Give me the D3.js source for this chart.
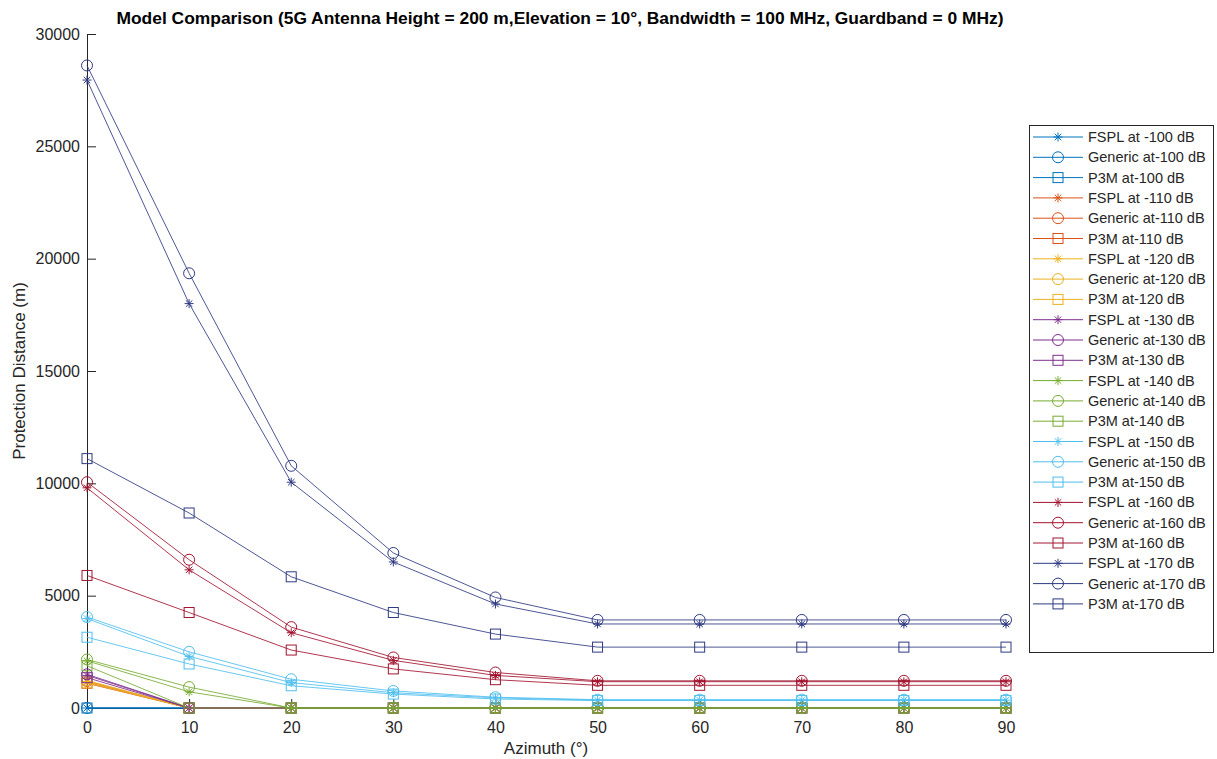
<!DOCTYPE html>
<html>
<head>
<meta charset="utf-8">
<script src="https://cdn.jsdelivr.net/npm/d3@7"></script>
<style>
  html, body { margin: 0; padding: 0; background: #ffffff; }
  svg { display: block; font-family: "Liberation Sans", Arial, Helvetica, sans-serif; }
</style>
</head>
<body>
<svg id="chart" width="1217" height="759"></svg>
<script>
// ---------- data ----------
const azimuths = [0, 10, 20, 30, 40, 50, 60, 70, 80, 90];
const levels = [-100, -110, -120, -130, -140, -150, -160, -170];
const levelColors = ["#0072BD", "#D95319", "#EDB120", "#7E2F8E", "#77AC30", "#4DBEEE", "#A2142F", "#2E3A82"];
const models = ["FSPL", "Generic", "P3M"];
const xTicks = [0, 10, 20, 30, 40, 50, 60, 70, 80, 90];
const yTicks = [0, 5000, 10000, 15000, 20000, 25000, 30000];

const fspl100 = [0, 0, 0, 0, 0, 0, 0, 0, 0, 0];
const generic100 = [0, 0, 0, 0, 0, 0, 0, 0, 0, 0];
const p3m100 = [0, 0, 0, 0, 0, 0, 0, 0, 0, 0];

const fspl110 = [1150, 0, 0, 0, 0, 0, 0, 0, 0, 0];
const generic110 = [1200, 0, 0, 0, 0, 0, 0, 0, 0, 0];
const p3m110 = [1100, 0, 0, 0, 0, 0, 0, 0, 0, 0];

const fspl120 = [1180, 0, 0, 0, 0, 0, 0, 0, 0, 0];
const generic120 = [1230, 0, 0, 0, 0, 0, 0, 0, 0, 0];
const p3m120 = [1120, 0, 0, 0, 0, 0, 0, 0, 0, 0];

const fspl130 = [1450, 0, 0, 0, 0, 0, 0, 0, 0, 0];
const generic130 = [1500, 0, 0, 0, 0, 0, 0, 0, 0, 0];
const p3m130 = [1350, 0, 0, 0, 0, 0, 0, 0, 0, 0];

const fspl140 = [2100, 720, 0, 0, 0, 0, 0, 0, 0, 0];
const generic140 = [2160, 930, 0, 0, 0, 0, 0, 0, 0, 0];
const p3m140 = [1880, 0, 0, 0, 0, 0, 0, 0, 0, 0];

const fspl150 = [3980, 2300, 1130, 680, 450, 350, 350, 350, 350, 350];
const generic150 = [4050, 2500, 1280, 760, 480, 370, 370, 370, 370, 370];
const p3m150 = [3150, 1960, 990, 620, 400, 330, 330, 330, 330, 330];

const fspl160 = [9800, 6150, 3350, 2120, 1450, 1170, 1170, 1170, 1170, 1170];
const generic160 = [10050, 6600, 3600, 2250, 1580, 1210, 1210, 1210, 1210, 1210];
const p3m160 = [5900, 4250, 2580, 1740, 1260, 1010, 1010, 1010, 1010, 1010];

const fspl170 = [27950, 18000, 10050, 6500, 4630, 3740, 3740, 3740, 3740, 3740];
const generic170 = [28600, 19350, 10780, 6900, 4920, 3920, 3920, 3920, 3920, 3920];
const p3m170 = [11100, 8680, 5840, 4250, 3290, 2710, 2710, 2710, 2710, 2710];

const seriesValues = [
  [fspl100, generic100, p3m100],
  [fspl110, generic110, p3m110],
  [fspl120, generic120, p3m120],
  [fspl130, generic130, p3m130],
  [fspl140, generic140, p3m140],
  [fspl150, generic150, p3m150],
  [fspl160, generic160, p3m160],
  [fspl170, generic170, p3m170]
];

// ---------- layout ----------
const svg = d3.select("#chart");
const plotLeft = 87, plotRight = 1006, plotTop = 34, plotBottom = 708;
const textColor = "#262626";
const axisColor = "#262626";

const x = d3.scaleLinear().domain([0, 90]).range([plotLeft, plotRight]);
const y = d3.scaleLinear().domain([0, 30000]).range([plotBottom, plotTop]);

// series list
const series = [];
levels.forEach((lv, i) => {
  models.forEach((m, j) => {
    const label = m === "FSPL" ? `FSPL at ${lv} dB` : `${m} at${lv} dB`;
    series.push({ label, model: m, color: levelColors[i], values: seriesValues[i][j] });
  });
});

// ---------- axes ----------
const xAxis = d3.axisBottom(x).tickValues(xTicks).tickSizeInner(-9).tickSizeOuter(0).tickPadding(14);
const yAxis = d3.axisLeft(y).tickValues(yTicks).tickFormat(d3.format("d"))
  .tickSizeInner(-9).tickSizeOuter(0).tickPadding(7);

const gx = svg.append("g").attr("transform", `translate(0,${plotBottom})`).call(xAxis);
const gy = svg.append("g").attr("transform", `translate(${plotLeft},0)`).call(yAxis);
[gx, gy].forEach(g => {
  g.select(".domain").attr("stroke", axisColor).attr("stroke-width", 1);
  g.selectAll(".tick line").attr("stroke", axisColor).attr("stroke-width", 1);
  g.selectAll(".tick text").attr("fill", textColor).style("font-size", "16px")
    .style("font-family", "'Liberation Sans', Arial, sans-serif");
});

// ---------- markers ----------
function drawMarker(g, model, cx, cy, color) {
  if (model === "FSPL") {
    const r = 4.5;
    const d = `M${cx - r},${cy}L${cx + r},${cy}M${cx},${cy - r}L${cx},${cy + r}` +
      `M${cx - r * 0.72},${cy - r * 0.72}L${cx + r * 0.72},${cy + r * 0.72}` +
      `M${cx - r * 0.72},${cy + r * 0.72}L${cx + r * 0.72},${cy - r * 0.72}`;
    g.append("path").attr("d", d).attr("stroke", color).attr("stroke-width", 1).attr("fill", "none");
  } else if (model === "Generic") {
    g.append("circle").attr("cx", cx).attr("cy", cy).attr("r", 5.5)
      .attr("stroke", color).attr("stroke-width", 1).attr("fill", "none");
  } else {
    g.append("rect").attr("x", cx - 5).attr("y", cy - 5).attr("width", 10).attr("height", 10)
      .attr("stroke", color).attr("stroke-width", 1).attr("fill", "none");
  }
}

// ---------- lines ----------
const line = d3.line().x((d, i) => x(azimuths[i])).y(d => y(d));
const plot = svg.append("g");
series.forEach(s => {
  const g = plot.append("g");
  g.append("path").datum(s.values).attr("d", line)
    .attr("fill", "none").attr("stroke", s.color).attr("stroke-width", 1).attr("stroke-opacity", 0.85);
  s.values.forEach((v, i) => drawMarker(g, s.model, x(azimuths[i]), y(v), s.color));
});

// ---------- title & labels ----------
svg.append("text").attr("x", 560).attr("y", 24).attr("text-anchor", "middle")
  .attr("fill", "#000").style("font-weight", "bold").style("font-size", "16px")
  .attr("textLength", 887).attr("lengthAdjust", "spacingAndGlyphs")
  .text("Model Comparison (5G Antenna Height = 200 m,Elevation = 10°, Bandwidth = 100 MHz, Guardband = 0 MHz)");

svg.append("text").attr("x", 546).attr("y", 754).attr("text-anchor", "middle")
  .attr("fill", textColor).style("font-size", "17px").text("Azimuth (°)");

svg.append("text").attr("transform", "translate(25,371) rotate(-90)").attr("text-anchor", "middle")
  .attr("fill", textColor).style("font-size", "17px").text("Protection Distance (m)");

// ---------- legend ----------
const lg = svg.append("g");
const lgX = 1029, lgY = 125, lgW = 184, lgH = 527, rowH = 20.3;
lg.append("rect").attr("x", lgX + 0.5).attr("y", lgY + 0.5).attr("width", lgW).attr("height", lgH)
  .attr("fill", "#fff").attr("stroke", "#262626").attr("stroke-width", 1);
series.forEach((s, i) => {
  const cy = 137 + i * rowH;
  lg.append("line").attr("x1", 1033).attr("x2", 1083).attr("y1", cy).attr("y2", cy)
    .attr("stroke", s.color).attr("stroke-width", 1);
  drawMarker(lg, s.model, 1058, cy, s.color);
  lg.append("text").attr("x", 1088).attr("y", cy + 5).attr("fill", textColor)
    .style("font-size", "14.5px").text(s.label);
});
</script>
</body>
</html>
